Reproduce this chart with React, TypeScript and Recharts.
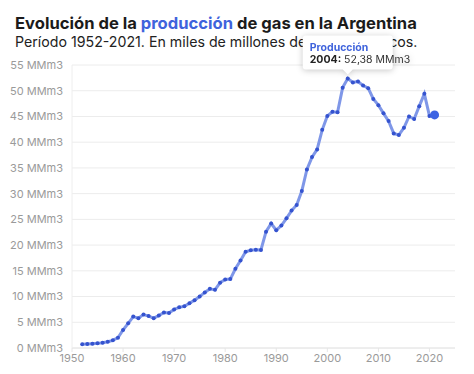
import React from "react";
import { LineChart, Line, XAxis, YAxis, CartesianGrid, ReferenceDot } from "recharts";

const years: number[] = [
  1952, 1953, 1954, 1955, 1956, 1957, 1958, 1959, 1960, 1961,
  1962, 1963, 1964, 1965, 1966, 1967, 1968, 1969, 1970, 1971,
  1972, 1973, 1974, 1975, 1976, 1977, 1978, 1979, 1980, 1981,
  1982, 1983, 1984, 1985, 1986, 1987, 1988, 1989, 1990, 1991,
  1992, 1993, 1994, 1995, 1996, 1997, 1998, 1999, 2000, 2001,
  2002, 2003, 2004, 2005, 2006, 2007, 2008, 2009, 2010, 2011,
  2012, 2013, 2014, 2015, 2016, 2017, 2018, 2019, 2020, 2021,
];

const production: number[] = [
  0.72, 0.78, 0.84, 0.9, 1.04, 1.23, 1.49, 2.0, 3.5, 4.8,
  6.1, 5.8, 6.5, 6.2, 5.8, 6.3, 6.9, 6.8, 7.5, 7.9,
  8.1, 8.7, 9.3, 10.0, 10.8, 11.5, 11.3, 12.7, 13.3, 13.4,
  15.4, 17.0, 18.7, 19.0, 19.1, 19.05, 22.6, 24.2, 22.9, 23.8,
  25.2, 26.7, 27.8, 30.5, 34.7, 37.1, 38.6, 42.4, 45.1, 45.9,
  45.8, 50.6, 52.38, 51.6, 51.8, 51.0, 50.5, 48.4, 47.2, 45.6,
  44.1, 41.7, 41.4, 42.8, 45.0, 44.5, 47.0, 49.4, 45.1, 45.3,
];

const xTicks: number[] = [1950, 1960, 1970, 1980, 1990, 2000, 2010, 2020];
const yTicks: number[] = [0, 5, 10, 15, 20, 25, 30, 35, 40, 45, 50, 55];

const highlightYear = 2004;
const highlightValue = 52.38;

const data = years.map((y, i) => ({ year: y, value: production[i] }));

const FONT = "Inter, 'Noto Sans', sans-serif";
const BLUE = "#3f63dc";

const renderDot = (props: any) => {
  const { cx, cy, index } = props;
  const last = index === data.length - 1;
  return (
    <circle
      key={`d-${index}`}
      cx={cx}
      cy={cy}
      r={last ? 4.5 : 2}
      fill={last ? "#3d64e3" : "#3553cf"}
      stroke="none"
    />
  );
};

const TooltipShape = (props: any) => {
  const { cx, cy } = props;
  const l = cx - 45;
  const r = cx + 45;
  const t = cy - 43;
  const b = cy - 9;
  const tip = cy - 4;
  const rad = 3;
  const d = `M${l + rad},${t} L${r - rad},${t} Q${r},${t} ${r},${t + rad} L${r},${b - rad} Q${r},${b} ${r - rad},${b} L${cx + 5},${b} L${cx},${tip} L${cx - 5},${b} L${l + rad},${b} Q${l},${b} ${l},${b - rad} L${l},${t + rad} Q${l},${t} ${l + rad},${t} Z`;
  return (
    <g style={{ filter: "drop-shadow(0px 1px 3px rgba(0,0,0,0.22))" }}>
      <path d={d} fill="#ffffff" />
      <text x={l + 7} y={cy - 27} fontFamily={FONT} fontSize={10.5} fontWeight={700} fill={BLUE}>
        Producción
      </text>
      <text x={l + 7} y={cy - 15} fontFamily={FONT} fontSize={10.5} fill="#333">
        <tspan fontWeight={700} fill="#222">{`${highlightYear}:`}</tspan>
        <tspan>{` ${String(highlightValue).replace(".", ",")} MMm3`}</tspan>
      </text>
    </g>
  );
};

export default function App() {
  return (
    <div style={{ position: "absolute", left: 0, top: 0, width: 474, height: 374, background: "#fff", fontFamily: FONT }}>
      <div style={{ position: "absolute", left: 15, top: 13, fontSize: 16.6, fontWeight: 700, color: "#1b1b1b", whiteSpace: "nowrap", lineHeight: "20px" }}>
        Evolución de la <span style={{ color: BLUE }}>producción</span> de gas en la Argentina
      </div>
      <div style={{ position: "absolute", left: 15, top: 33, fontSize: 14.2, fontWeight: 400, color: "#222", whiteSpace: "nowrap", lineHeight: "18px" }}>
        Período 1952-2021. En miles de millones de metros cúbicos.
      </div>
      <div style={{ position: "absolute", left: 0, top: 0 }}>
        <LineChart width={474} height={374} data={data} margin={{ top: 65, right: 19, bottom: 0, left: 0 }}>
          <CartesianGrid vertical={false} stroke="#ececec" strokeWidth={1} />
          <XAxis
            dataKey="year"
            type="number"
            domain={[1950, 2025]}
            ticks={xTicks}
            height={26}
            axisLine={{ stroke: "#e6e6e6" }}
            tickLine={{ stroke: "#e6e6e6" }}
            tickSize={4}
            tickMargin={2}
            tick={{ fill: "#9a9a9a", fontSize: 11, fontFamily: FONT }}
          />
          <YAxis
            type="number"
            domain={[0, 55]}
            ticks={yTicks}
            width={72}
            axisLine={{ stroke: "#eeeeee" }}
            tickLine={false}
            tickSize={0}
            tickMargin={9}
            tick={{ fill: "#9a9a9a", fontSize: 11, fontFamily: FONT }}
            tickFormatter={(v: number) => `${v} MMm3`}
          />
          <Line
            type="linear"
            dataKey="value"
            stroke="#7f97e8"
            strokeWidth={3}
            dot={renderDot}
            activeDot={false}
            isAnimationActive={false}
          />
          <ReferenceDot x={highlightYear} y={highlightValue} r={0} ifOverflow="visible" shape={TooltipShape} />
        </LineChart>
      </div>
    </div>
  );
}
